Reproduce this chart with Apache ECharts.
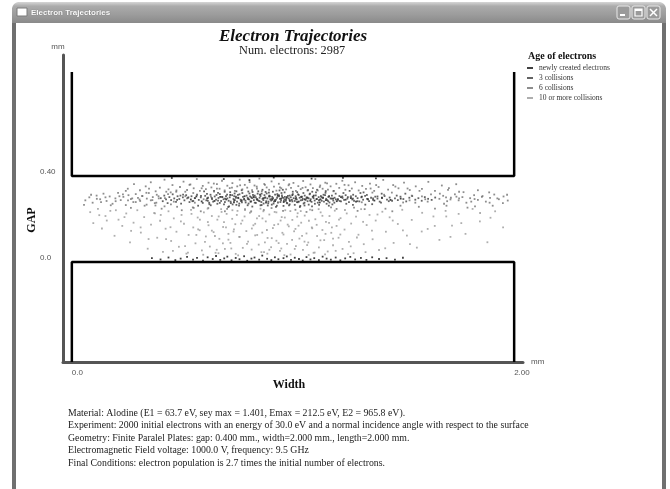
<!DOCTYPE html>
<html>
<head>
<meta charset="utf-8">
<script src="https://cdn.jsdelivr.net/npm/echarts@6/dist/echarts.min.js"></script>
<style>html,body{margin:0;padding:0;background:#fff}#c{width:670px;height:489px}</style>
</head>
<body>
<div id="c"></div>
<script>
// ---- data ----
const xTickValues = [0, 2];
const xTickLabels = ['0.0', '2.00'];
const yTickValues = [0, 0.4];
const yTickLabels = ['0.0', '0.40'];
const legendNames = ['newly created electrons', '3 collisions', '6 collisions', '10 or more collisions'];
const upperPlate = [[0, 0.884], [0, 0.4], [2, 0.4], [2, 0.884]];
const lowerPlate = [[0, -0.465], [0, 0], [2, 0], [2, -0.465]];
const infoLines = [
  'Material: Alodine (E1 = 63.7 eV, sey max = 1.401, Emax = 212.5 eV, E2 = 965.8 eV).',
  'Experiment: 2000 initial electrons with an energy of 30.0 eV and a normal incidence angle with respect to the surface',
  'Geometry: Finite Paralel Plates: gap: 0.400 mm., width=2.000 mm., length=2.000 mm.',
  'Electromagnetic Field voltage: 1000.0 V, frequency: 9.5 GHz',
  'Final Conditions: electron population is 2.7 times the initial number of electrons.'
];

const newPts = [[0.362,0.018],[0.401,0.012],[0.437,0.021],[0.468,0.009],[0.492,0.016],[0.521,0.024],[0.548,0.011],[0.566,0.019],[0.593,0.007],[0.614,0.022],[0.637,0.014],[0.652,0.028],[0.671,0.010],[0.689,0.017],[0.703,0.025],[0.722,0.008],[0.741,0.019],[0.758,0.013],[0.779,0.027],[0.793,0.006],[0.812,0.016],[0.826,0.021],[0.847,0.011],[0.861,0.030],[0.883,0.015],[0.902,0.009],[0.918,0.022],[0.934,0.013],[0.957,0.018],[0.972,0.026],[0.991,0.010],[1.008,0.020],[1.027,0.014],[1.044,0.007],[1.061,0.023],[1.079,0.012],[1.096,0.018],[1.117,0.009],[1.134,0.025],[1.152,0.016],[1.171,0.011],[1.193,0.021],[1.214,0.008],[1.236,0.017],[1.259,0.024],[1.281,0.012],[1.307,0.019],[1.332,0.010],[1.358,0.022],[1.389,0.014],[1.423,0.018],[1.461,0.011],[1.497,0.020],
[0.612,0.296],[0.645,0.284],[0.671,0.303],[0.698,0.291],[0.716,0.312],[0.733,0.278],[0.752,0.299],[0.768,0.287],[0.781,0.306],[0.797,0.293],[0.808,0.281],[0.823,0.301],[0.839,0.289],[0.851,0.314],[0.866,0.297],[0.878,0.276],[0.892,0.305],[0.907,0.290],[0.919,0.283],[0.931,0.308],[0.946,0.295],[0.958,0.279],[0.972,0.302],[0.985,0.288],[0.997,0.311],[1.012,0.294],[1.026,0.281],[1.039,0.304],[1.053,0.292],[1.066,0.299],[1.078,0.285],[1.094,0.309],[1.107,0.293],[1.121,0.277],[1.136,0.300],[1.149,0.288],[1.163,0.306],[1.181,0.295],[1.198,0.283],[1.217,0.302],[1.238,0.290],[1.262,0.297],[1.285,0.281],[1.311,0.304],[1.339,0.292],[1.368,0.286],[1.402,0.299],[1.441,0.289],[1.487,0.295],[0.538,0.291],[0.563,0.305],[0.587,0.282],
[0.452,0.391],[0.687,0.386],[0.913,0.393],[1.084,0.388],[1.226,0.392],[0.803,0.381],[1.375,0.389]];

const col3Pts = [[0.402,0.297],[0.411,0.283],[0.418,0.309],[0.426,0.291],[0.433,0.274],[0.441,0.302],[0.449,0.288],[0.456,0.315],[0.463,0.296],[0.471,0.280],[0.478,0.306],[0.486,0.293],[0.494,0.272],[0.502,0.301],[0.509,0.287],[0.517,0.311],[0.524,0.298],[0.532,0.279],[0.541,0.306],[0.549,0.284],[0.557,0.297],[0.566,0.313],[0.574,0.289],[0.583,0.301],[0.592,0.275],
[0.603,0.308],[0.608,0.287],[0.616,0.299],[0.621,0.276],[0.627,0.313],[0.634,0.293],[0.639,0.281],[0.646,0.305],[0.652,0.290],[0.658,0.271],[0.663,0.298],[0.669,0.316],[0.675,0.284],[0.681,0.302],[0.686,0.292],[0.692,0.279],[0.697,0.307],[0.703,0.296],[0.709,0.285],[0.714,0.301],[0.719,0.274],[0.725,0.311],[0.731,0.293],[0.737,0.288],[0.742,0.304],[0.747,0.281],[0.753,0.297],[0.758,0.315],[0.763,0.290],[0.769,0.278],[0.774,0.303],[0.779,0.294],[0.785,0.286],[0.790,0.309],[0.795,0.299],[0.799,0.272],[0.661,0.322],[0.688,0.268],[0.716,0.325],[0.744,0.266],[0.771,0.321],[0.628,0.264],[0.736,0.319],[0.756,0.262],[0.711,0.259],
[0.802,0.291],[0.806,0.305],[0.811,0.282],[0.815,0.297],[0.819,0.312],[0.823,0.288],[0.827,0.276],[0.832,0.301],[0.836,0.293],[0.840,0.318],[0.845,0.285],[0.849,0.299],[0.853,0.307],[0.857,0.279],[0.862,0.294],[0.866,0.288],[0.871,0.311],[0.875,0.301],[0.879,0.283],[0.884,0.296],[0.888,0.273],[0.893,0.309],[0.897,0.292],[0.901,0.286],[0.906,0.303],[0.910,0.297],[0.914,0.281],[0.919,0.314],[0.923,0.290],[0.928,0.299],[0.932,0.277],[0.937,0.306],[0.941,0.294],[0.946,0.287],[0.950,0.310],[0.955,0.298],[0.959,0.284],[0.963,0.303],[0.968,0.291],[0.972,0.275],[0.977,0.308],[0.981,0.296],[0.986,0.283],[0.990,0.301],[0.995,0.289],[0.999,0.316],[0.817,0.326],[0.858,0.265],[0.891,0.323],[0.927,0.262],[0.962,0.324],[0.985,0.268],[0.843,0.329],[0.904,0.267],[0.948,0.321],
[1.003,0.297],[1.008,0.284],[1.012,0.306],[1.017,0.291],[1.021,0.278],[1.026,0.312],[1.030,0.299],[1.035,0.287],[1.039,0.303],[1.044,0.294],[1.048,0.272],[1.053,0.309],[1.057,0.289],[1.062,0.301],[1.066,0.283],[1.071,0.296],[1.075,0.315],[1.080,0.292],[1.084,0.280],[1.089,0.304],[1.093,0.297],[1.098,0.286],[1.103,0.310],[1.107,0.293],[1.112,0.276],[1.116,0.302],[1.121,0.290],[1.126,0.307],[1.130,0.285],[1.135,0.298],[1.140,0.281],[1.145,0.311],[1.150,0.294],[1.155,0.288],[1.160,0.303],[1.165,0.277],[1.170,0.296],[1.176,0.309],[1.182,0.286],[1.188,0.299],[1.194,0.291],[1.019,0.325],[1.052,0.263],[1.087,0.327],[1.118,0.266],[1.147,0.322],[1.178,0.268],[1.033,0.261],[1.104,0.324],
[1.203,0.293],[1.210,0.307],[1.217,0.282],[1.224,0.298],[1.231,0.289],[1.238,0.311],[1.246,0.295],[1.253,0.279],[1.261,0.303],[1.268,0.291],[1.276,0.285],[1.284,0.306],[1.292,0.297],[1.300,0.282],[1.309,0.301],[1.317,0.290],[1.326,0.308],[1.335,0.294],[1.344,0.283],[1.353,0.299],[1.362,0.289],[1.372,0.304],[1.382,0.295],[1.392,0.281],[1.403,0.298],[1.414,0.307],[1.425,0.290],[1.437,0.300],[1.448,0.285],[1.228,0.321],[1.271,0.266],[1.319,0.324],[1.358,0.269],[1.401,0.318],
[1.461,0.296],[1.474,0.288],[1.486,0.304],[1.499,0.293],[1.512,0.282],[1.526,0.299],[1.539,0.307],[1.553,0.290],[1.567,0.297],[1.582,0.285],[1.596,0.302],[1.611,0.294],[1.627,0.289],[1.643,0.300],[1.508,0.318],
[0.734,0.287],[1.052,0.276],[0.881,0.319],[0.622,0.269],[1.271,0.295],[0.957,0.261],[0.503,0.314],[1.148,0.330],[0.816,0.258],[0.679,0.303],[0.912,0.272],[1.193,0.318],[0.768,0.334],[1.086,0.259],[0.545,0.283],[0.999,0.327],[0.853,0.264],[1.334,0.312],[0.707,0.256],[0.961,0.292],[1.117,0.287],[0.598,0.329],[0.873,0.298],[1.241,0.271],[0.786,0.277],[1.023,0.315],[0.654,0.312],[0.939,0.333],[1.162,0.262],[0.827,0.309],[1.398,0.276],[0.742,0.299],[1.066,0.333],[0.889,0.281],[0.571,0.262],[1.211,0.284],[0.974,0.273],[0.803,0.319],[1.129,0.302],[0.691,0.327],[0.923,0.257],[1.305,0.321],[0.862,0.336],[1.008,0.266],[0.633,0.298],[1.187,0.276],[0.751,0.312],[1.042,0.288],[0.896,0.305],[1.469,0.309],[0.718,0.281],[0.985,0.309],[1.099,0.271],[0.838,0.292],[0.476,0.289],[1.256,0.331],[0.943,0.279],[0.661,0.286],[1.174,0.295],[0.795,0.264],[1.014,0.298],[0.867,0.272],[1.362,0.296],[0.584,0.308],[1.077,0.318],[0.929,0.316],[0.727,0.268],[1.138,0.313],[0.811,0.301],[0.968,0.285],[1.223,0.305],[0.643,0.331],[0.905,0.294],[1.031,0.256],[0.779,0.291],[1.291,0.283],[0.858,0.318],[0.527,0.301],[1.109,0.336],[0.997,0.282],[0.702,0.314],[1.184,0.331],[0.832,0.275],[0.951,0.303],[1.433,0.283],[0.615,0.285],[1.061,0.296],[0.876,0.326],[0.757,0.272],[1.152,0.271],[0.918,0.288],[1.327,0.267],[0.669,0.275],[1.047,0.321],[0.798,0.328],[0.982,0.264],[1.203,0.289],[0.556,0.297],[0.849,0.283],[1.091,0.303],[0.734,0.306],[0.936,0.311],[1.272,0.313],[0.611,0.317],[1.018,0.279],[0.886,0.263],[1.159,0.283],[0.765,0.283],[0.954,0.336],[1.382,0.305],[0.693,0.295],[1.125,0.292],[0.821,0.305],[1.037,0.303],[0.491,0.309],[0.909,0.327],[1.248,0.302],[0.744,0.329],[0.971,0.297],[1.071,0.267]];

const col6Pts = [[0.253,0.341],[0.281,0.362],[0.308,0.334],[0.334,0.352],[0.357,0.371],[0.379,0.329],[0.398,0.346],[0.419,0.383],[0.437,0.338],[0.455,0.358],[0.472,0.327],[0.489,0.349],[0.505,0.374],[0.521,0.335],[0.536,0.361],[0.551,0.343],[0.565,0.386],[0.579,0.331],[0.592,0.354],[0.606,0.339],[0.618,0.369],[0.631,0.347],[0.643,0.328],[0.656,0.362],[0.668,0.341],[0.679,0.378],[0.691,0.333],[0.703,0.355],[0.714,0.344],[0.726,0.367],[0.737,0.331],[0.748,0.352],[0.759,0.383],[0.771,0.338],[0.782,0.359],[0.793,0.346],[0.804,0.372],[0.815,0.334],[0.826,0.356],[0.837,0.342],[0.848,0.388],[0.859,0.329],[0.870,0.363],[0.881,0.347],[0.892,0.336],[0.903,0.375],[0.914,0.351],[0.925,0.332],[0.936,0.364],[0.947,0.343],[0.958,0.381],[0.969,0.338],[0.980,0.357],[0.991,0.345],[1.002,0.368],[1.013,0.331],[1.024,0.353],[1.035,0.339],[1.046,0.377],[1.057,0.348],[1.068,0.335],[1.079,0.361],[1.090,0.344],[1.101,0.386],[1.112,0.333],[1.123,0.356],[1.134,0.341],[1.146,0.369],[1.158,0.337],[1.170,0.352],[1.183,0.329],[1.196,0.364],[1.209,0.345],[1.223,0.378],[1.237,0.336],[1.251,0.357],[1.266,0.342],[1.281,0.371],[1.297,0.333],[1.313,0.354],[1.330,0.340],[1.348,0.365],[1.367,0.331],[1.387,0.349],[1.408,0.382],[1.430,0.337],[1.453,0.358],[1.477,0.343],[1.502,0.369],[1.528,0.335],[1.555,0.352],[1.583,0.340],[1.612,0.373],[1.642,0.331],[1.673,0.356],[1.705,0.344],[1.738,0.362],
[0.061,0.287],[0.079,0.301],[0.094,0.276],[0.112,0.309],[0.128,0.292],[0.143,0.318],[0.157,0.284],[0.171,0.305],[0.184,0.271],[0.197,0.296],[0.209,0.322],[0.221,0.288],[0.233,0.303],[0.244,0.265],[0.256,0.311],[0.267,0.293],[0.278,0.279],[0.289,0.316],[0.299,0.298],[0.309,0.284],[0.319,0.307],[0.329,0.262],[0.339,0.295],[0.348,0.321],[0.357,0.287],[0.366,0.302],[0.375,0.274],[0.384,0.313],[0.393,0.296],[0.419,0.259],[0.447,0.324],[0.476,0.257],[0.513,0.327],[0.547,0.254],
[1.662,0.294],[1.679,0.308],[1.697,0.283],[1.714,0.299],[1.732,0.315],[1.749,0.287],[1.766,0.302],[1.784,0.276],[1.801,0.297],[1.819,0.311],[1.836,0.289],[1.854,0.303],[1.872,0.281],[1.891,0.298],[1.910,0.314],[1.931,0.292],[1.952,0.305],[1.971,0.286],[1.694,0.262],[1.751,0.327],[1.823,0.259],[1.887,0.324],
[0.152,0.301],[1.553,0.276],[0.337,0.322],[1.712,0.291],[0.448,0.268],[1.624,0.315],[0.289,0.279],[1.857,0.307],[0.521,0.296],[1.486,0.262],[0.198,0.283],[1.771,0.325],[0.392,0.306],[1.598,0.292],[0.267,0.252],[1.924,0.296],[0.473,0.333],[1.537,0.309],[0.113,0.294],[1.683,0.271],[0.364,0.288],[1.806,0.281],[0.556,0.276],[1.447,0.323],[0.231,0.315],[1.739,0.304],[0.421,0.297],[1.572,0.331],[0.318,0.307],[1.889,0.276],[0.587,0.343],[1.351,0.342],[0.702,0.247],[1.197,0.247],[0.868,0.242],[1.043,0.345],[0.617,0.251],[1.276,0.253],[0.941,0.347],[0.783,0.243],[1.121,0.349],[0.656,0.341],[1.418,0.248],[0.903,0.251],[1.011,0.243],[0.724,0.346],[1.172,0.254],[0.836,0.351],[1.324,0.246],[0.551,0.252],[0.176,0.264],[0.087,0.313],[0.055,0.266],[0.132,0.279],[1.949,0.274],[1.968,0.313],[1.903,0.262],[1.836,0.334],[0.244,0.331],[0.406,0.248],[1.642,0.248],[1.518,0.342],[0.349,0.341],[1.789,0.253],[0.497,0.241],[1.463,0.351],[0.273,0.296],[1.701,0.336],[0.435,0.316],[1.609,0.281],[0.761,0.357],[0.983,0.362],[1.087,0.241],[0.642,0.365],[1.233,0.359],[0.873,0.359],[1.376,0.358],[0.532,0.359],[1.154,0.366],[0.692,0.236],[0.955,0.238],[1.292,0.238],[0.811,0.236],[1.061,0.233],[0.583,0.236],[1.449,0.236],[0.378,0.263],[1.569,0.257],[0.215,0.306],[1.664,0.318],[0.461,0.281],[1.527,0.287],[0.306,0.291],[1.751,0.296],[0.513,0.306],[1.412,0.313],[0.382,0.276],[1.498,0.277],[0.596,0.292],[1.311,0.278],[0.629,0.304],[1.262,0.307],[0.549,0.321],[1.359,0.323],[0.427,0.327],[1.583,0.305],[0.338,0.267],[1.692,0.301],[0.254,0.287],[1.821,0.293]];

const col10Pts = [[0.083,0.232],[0.097,0.181],[0.118,0.247],[0.136,0.156],[0.152,0.214],[0.174,0.238],[0.193,0.122],[0.211,0.197],[0.228,0.168],[0.246,0.226],[0.263,0.091],[0.279,0.183],[0.296,0.241],[0.312,0.137],[0.327,0.209],[0.343,0.062],[0.358,0.174],[0.372,0.228],[0.386,0.113],[0.399,0.192],[0.412,0.047],[0.424,0.155],[0.437,0.236],[0.449,0.098],[0.461,0.203],[0.473,0.141],[0.484,0.071],[0.496,0.219],[0.507,0.178],[0.518,0.039],[0.528,0.126],[0.539,0.243],[0.549,0.161],[0.559,0.087],[0.569,0.207],[0.578,0.148],[0.588,0.054],[0.597,0.231],[0.606,0.119],[0.615,0.186],[0.624,0.072],[0.633,0.214],[0.641,0.139],[0.650,0.043],[0.658,0.197],[0.667,0.108],[0.675,0.246],[0.684,0.163],[0.692,0.061],[0.700,0.224],[0.708,0.131],[0.717,0.089],[0.725,0.201],[0.733,0.152],[0.741,0.038],[0.749,0.238],[0.757,0.117],[0.765,0.179],[0.773,0.066],[0.781,0.212],[0.789,0.144],[0.797,0.095],[0.805,0.229],[0.813,0.058],[0.821,0.171],[0.829,0.124],[0.837,0.203],[0.845,0.081],[0.853,0.248],[0.861,0.137],[0.869,0.046],[0.877,0.189],[0.885,0.112],[0.893,0.221],[0.901,0.069],[0.909,0.158],[0.917,0.233],[0.925,0.099],[0.933,0.176],[0.941,0.052],[0.949,0.209],[0.957,0.128],[0.965,0.241],[0.973,0.084],[0.981,0.166],[0.989,0.035],[0.997,0.196],[1.005,0.143],[1.013,0.074],[1.021,0.227],[1.029,0.109],[1.037,0.183],[1.045,0.057],[1.053,0.216],[1.061,0.133],[1.069,0.091],[1.077,0.244],[1.085,0.161],[1.093,0.043],[1.101,0.199],[1.109,0.121],[1.117,0.068],[1.125,0.231],[1.133,0.149],[1.141,0.102],[1.149,0.187],[1.157,0.049],[1.165,0.214],[1.173,0.136],[1.181,0.078],[1.189,0.239],[1.197,0.168],[1.206,0.113],[1.215,0.204],[1.224,0.061],[1.233,0.151],[1.243,0.226],[1.253,0.094],[1.263,0.179],[1.274,0.041],[1.285,0.211],[1.296,0.127],[1.308,0.246],[1.320,0.083],[1.333,0.172],[1.346,0.219],[1.360,0.106],[1.374,0.193],[1.389,0.056],[1.404,0.234],[1.420,0.141],[1.437,0.208],[1.455,0.089],[1.474,0.177],[1.494,0.243],[1.515,0.123],[1.537,0.196],[1.560,0.067],[1.584,0.229],[1.609,0.154],[1.635,0.212],[1.662,0.103],[1.690,0.238],[1.719,0.169],[1.749,0.224],[1.780,0.131],[1.812,0.247],[1.845,0.189],[1.879,0.092],[1.914,0.236],[1.950,0.161],
[0.731,0.142],[1.052,0.095],[0.862,0.203],[0.618,0.171],[1.214,0.128],[0.947,0.063],[0.493,0.189],[1.133,0.215],[0.792,0.084],[0.677,0.233],[1.011,0.154],[0.904,0.111],[1.317,0.187],[0.563,0.126],[1.098,0.044],[0.829,0.178],[0.746,0.219],[1.176,0.161],[0.655,0.057],[0.988,0.237],[1.261,0.073],[0.882,0.149],[0.708,0.104],[1.072,0.192],[0.541,0.224],[0.935,0.088],[1.147,0.131],[0.783,0.247],[0.602,0.094],[1.025,0.169],[0.857,0.046],[1.382,0.221],[0.688,0.186],[0.963,0.207],[1.193,0.052],[0.759,0.117],[0.446,0.162],[1.116,0.246],[0.915,0.172],[0.633,0.146],[1.041,0.122],[0.809,0.233],[1.289,0.114],[0.721,0.063],[0.996,0.103],[0.579,0.197],[1.163,0.182],[0.873,0.091],[0.664,0.212],[1.087,0.157],[0.952,0.136],[0.512,0.074],[1.235,0.242],[0.838,0.126],[0.697,0.161],[1.019,0.211],[0.771,0.193],[1.357,0.146],[0.925,0.231],[0.614,0.248],[1.064,0.079],[0.847,0.214],[1.208,0.197],[0.739,0.176],[0.976,0.174],[0.426,0.107],[1.124,0.101],[0.893,0.057],[0.647,0.121],[1.035,0.237],[0.814,0.156],[1.451,0.193],[0.571,0.152],[0.944,0.193],[1.181,0.109],[0.726,0.241],[1.008,0.061],[0.866,0.236],[0.683,0.087],[1.107,0.173],[0.311,0.161],[1.582,0.142],[0.376,0.226],[1.693,0.212],[0.238,0.209],[1.761,0.181],[0.158,0.193],[1.846,0.228],[0.347,0.107],[1.529,0.083],[0.268,0.145],[1.641,0.168],[0.199,0.241],[1.712,0.117],[0.402,0.219],[1.497,0.147],[0.124,0.218],[1.893,0.206],[0.457,0.052],[1.417,0.064],[0.752,0.031],[0.961,0.032],[1.145,0.036],[0.594,0.034],[0.884,0.039],[1.071,0.033],[0.663,0.041],[1.249,0.037],[0.525,0.044],[1.328,0.046]];

const ptSeries = [newPts, col3Pts, col6Pts, col10Pts];
const ptColors = ['#111111', '#3c3c3c', '#707070', '#9a9a9a'];

// ---- chart ----
const chart = echarts.init(document.getElementById('c'), null, {renderer: 'canvas'});
const serif = '"Liberation Serif", "Times New Roman", serif';
const sans = '"Liberation Sans", Arial, sans-serif';
function lookup(vals, labels) {
  return function (v) {
    for (let i = 0; i < vals.length; i++) if (Math.abs(v - vals[i]) < 1e-9) return labels[i];
    return '';
  };
}

const series = ptSeries.map((d, i) => ({
  name: legendNames[i], type: 'scatter', data: d, symbol: 'rect', symbolSize: 1.8,
  itemStyle: {color: ptColors[i]}, silent: true, z: 3
}));
series.push({type: 'line', data: upperPlate, symbol: 'none', silent: true, z: 4,
  lineStyle: {color: '#000', width: 2.5}});
series.push({type: 'line', data: lowerPlate, symbol: 'none', silent: true, z: 4,
  lineStyle: {color: '#000', width: 2.5}});

const graphic = [
  {type: 'rect', z: -10, shape: {x: 14, y: 4, width: 650, height: 500, r: [7, 7, 0, 0]},
   style: {fill: '#fff', stroke: '#6f6f6f', lineWidth: 4}},
  {type: 'rect', z: -9, shape: {x: 12, y: 2, width: 654, height: 21, r: [7, 7, 0, 0]},
   style: {fill: new echarts.graphic.LinearGradient(0, 0, 0, 1, [
     {offset: 0, color: '#d6d6d6'}, {offset: 0.2, color: '#ababab'},
     {offset: 0.6, color: '#9c9c9c'}, {offset: 1, color: '#8a8a8a'}])}},
  {type: 'rect', z: -8, shape: {x: 17, y: 8, width: 10, height: 8},
   style: {fill: '#fff', stroke: '#7a7a7a', lineWidth: 1}},
  {type: 'text', z: -8, x: 31, y: 13,
   style: {text: 'Electron Trajectories', fill: '#fff', font: 'bold 8px ' + sans,
     textVerticalAlign: 'middle', textShadowColor: '#555', textShadowBlur: 1}},
  {type: 'rect', z: -8, shape: {x: 617, y: 6, width: 13, height: 13, r: 2},
   style: {fill: '#9a9a9a', stroke: '#e8e8e8', lineWidth: 1}},
  {type: 'rect', z: -8, shape: {x: 632, y: 6, width: 13, height: 13, r: 2},
   style: {fill: '#9a9a9a', stroke: '#e8e8e8', lineWidth: 1}},
  {type: 'rect', z: -8, shape: {x: 647, y: 6, width: 13, height: 13, r: 2},
   style: {fill: '#9a9a9a', stroke: '#e8e8e8', lineWidth: 1}},
  {type: 'rect', z: -7, shape: {x: 620, y: 14, width: 5, height: 2}, style: {fill: '#fff'}},
  {type: 'rect', z: -7, shape: {x: 635, y: 9, width: 7, height: 7}, style: {fill: 'none', stroke: '#fff', lineWidth: 1.2}},
  {type: 'rect', z: -7, shape: {x: 635, y: 9, width: 7, height: 2}, style: {fill: '#fff'}},
  {type: 'line', z: -7, shape: {x1: 650, y1: 9, x2: 657, y2: 16}, style: {stroke: '#fff', lineWidth: 1.5}},
  {type: 'line', z: -7, shape: {x1: 657, y1: 9, x2: 650, y2: 16}, style: {stroke: '#fff', lineWidth: 1.5}},
  {type: 'text', x: 289, y: 385,
   style: {text: 'Width', font: 'bold 12px ' + serif, fill: '#111', textAlign: 'center', textVerticalAlign: 'middle'}},
  {type: 'text', x: 32, y: 220, rotation: Math.PI / 2,
   style: {text: 'GAP', font: 'bold 12px ' + serif, fill: '#111', textAlign: 'center', textVerticalAlign: 'middle'}},
  {type: 'text', x: 68, y: 407,
   style: {text: infoLines.join('\n'), font: '9.8px ' + serif, fill: '#222', lineHeight: 12.5}}
];

const option = {
  backgroundColor: '#fff',
  animation: false,
  title: [
    {text: 'Electron Trajectories', left: 219, top: 28, padding: 0,
     textStyle: {fontFamily: serif, fontStyle: 'italic', fontWeight: 'bold', fontSize: 17, color: '#111'}},
    {text: 'Num. electrons: 2987', left: 239, top: 45, padding: 0,
     textStyle: {fontFamily: serif, fontWeight: 'normal', fontSize: 12.3, color: '#222'}},
    {text: 'Age of electrons', left: 528, top: 51, padding: 0,
     textStyle: {fontFamily: serif, fontWeight: 'bold', fontSize: 10, color: '#111'}}
  ],
  legend: {
    data: legendNames, orient: 'vertical', left: 527, top: 64, itemGap: 2, padding: 0,
    itemWidth: 6, itemHeight: 2, icon: 'rect', selectedMode: false,
    textStyle: {fontFamily: serif, fontSize: 7.5, color: '#333', padding: [0, 0, 0, 1]}
  },
  grid: {left: 63, right: 147, top: 55, bottom: 127, containLabel: false},
  xAxis: {
    type: 'value', min: -0.04, max: 2.04,
    name: 'mm', nameLocation: 'end', nameGap: 8,
    nameTextStyle: {fontFamily: sans, fontSize: 8, color: '#555', verticalAlign: 'middle'},
    axisLine: {show: true, onZero: false, lineStyle: {color: '#555', width: 3}},
    axisTick: {show: false}, splitLine: {show: false},
    axisLabel: {customValues: xTickValues, formatter: lookup(xTickValues, xTickLabels),
      align: 'left', margin: 7, fontSize: 8, fontFamily: sans, color: '#555'}
  },
  yAxis: {
    type: 'value', min: -0.465, max: 0.963,
    name: 'mm', nameLocation: 'end', nameGap: 4,
    nameTextStyle: {fontFamily: sans, fontSize: 8, color: '#555', padding: [0, 10, 0, 0]},
    axisLine: {show: true, onZero: false, lineStyle: {color: '#555', width: 3}},
    axisTick: {show: false}, splitLine: {show: false},
    axisLabel: {customValues: yTickValues, formatter: lookup(yTickValues, yTickLabels),
      align: 'left', verticalAlign: 'bottom', margin: 23, fontSize: 8, fontFamily: sans, color: '#555'}
  },
  graphic: graphic,
  series: series
};
chart.setOption(option);
</script>
</body>
</html>
